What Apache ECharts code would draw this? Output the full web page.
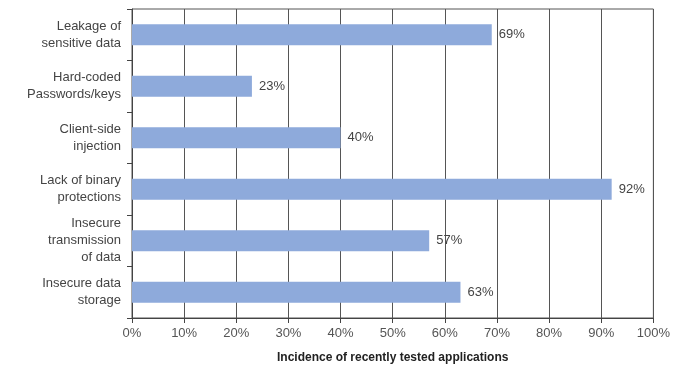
<!DOCTYPE html>
<html>
<head>
<meta charset="utf-8">
<script src="https://cdn.jsdelivr.net/npm/echarts@6/dist/echarts.min.js"></script>
<style>
  html, body { margin: 0; padding: 0; background: #fff; }
  #chart { width: 673px; height: 369px; }
</style>
</head>
<body>
<div id="chart"></div>
<script>
// categories listed top to bottom
const categories = [
  'Leakage of\nsensitive data',
  'Hard-coded\nPasswords/keys',
  'Client-side\ninjection',
  'Lack of binary\nprotections',
  'Insecure\ntransmission\nof data',
  'Insecure data\nstorage'
]
const incidence = [69, 23, 40, 92, 57, 63]
const xTicks = [0, 10, 20, 30, 40, 50, 60, 70, 80, 90, 100]

let myChart = echarts.init(document.getElementById('chart'))
let option = {
  animation: false,
  textStyle: { fontFamily: 'Liberation Sans, Arial, sans-serif' },
  grid: {
    left: 132,
    right: 15,
    top: 9,
    bottom: 48,
    show: true,
    borderColor: '#555',
    borderWidth: 1
  },
  xAxis: {
    type: 'value',
    min: xTicks[0],
    max: xTicks[xTicks.length - 1],
    interval: 10,
    name: 'Incidence of recently tested applications',
    nameLocation: 'middle',
    nameGap: 34,
    nameTextStyle: { fontWeight: 'bold', fontSize: 12, color: '#222' },
    axisLine: { show: true, lineStyle: { color: '#444' } },
    axisTick: { show: true, length: 5, lineStyle: { color: '#444' } },
    axisLabel: { formatter: '{value}%', color: '#555', fontSize: 13, margin: 9 },
    splitLine: { show: true, lineStyle: { color: '#555', width: 1 } }
  },
  yAxis: {
    type: 'category',
    data: categories,
    inverse: true,
    axisLine: { show: true, lineStyle: { color: '#444' } },
    axisTick: { show: true, length: 5, lineStyle: { color: '#444' } },
    axisLabel: { color: '#444', fontSize: 13, lineHeight: 17, margin: 11, align: 'right' },
    splitLine: { show: false }
  },
  series: [{
    type: 'bar',
    data: incidence,
    barWidth: 21,
    itemStyle: { color: '#8eaadb' },
    label: {
      show: true,
      position: 'right',
      distance: 7,
      formatter: '{c}%',
      color: '#444',
      fontSize: 13
    }
  }]
}
myChart.setOption(option)
</script>
</body>
</html>
